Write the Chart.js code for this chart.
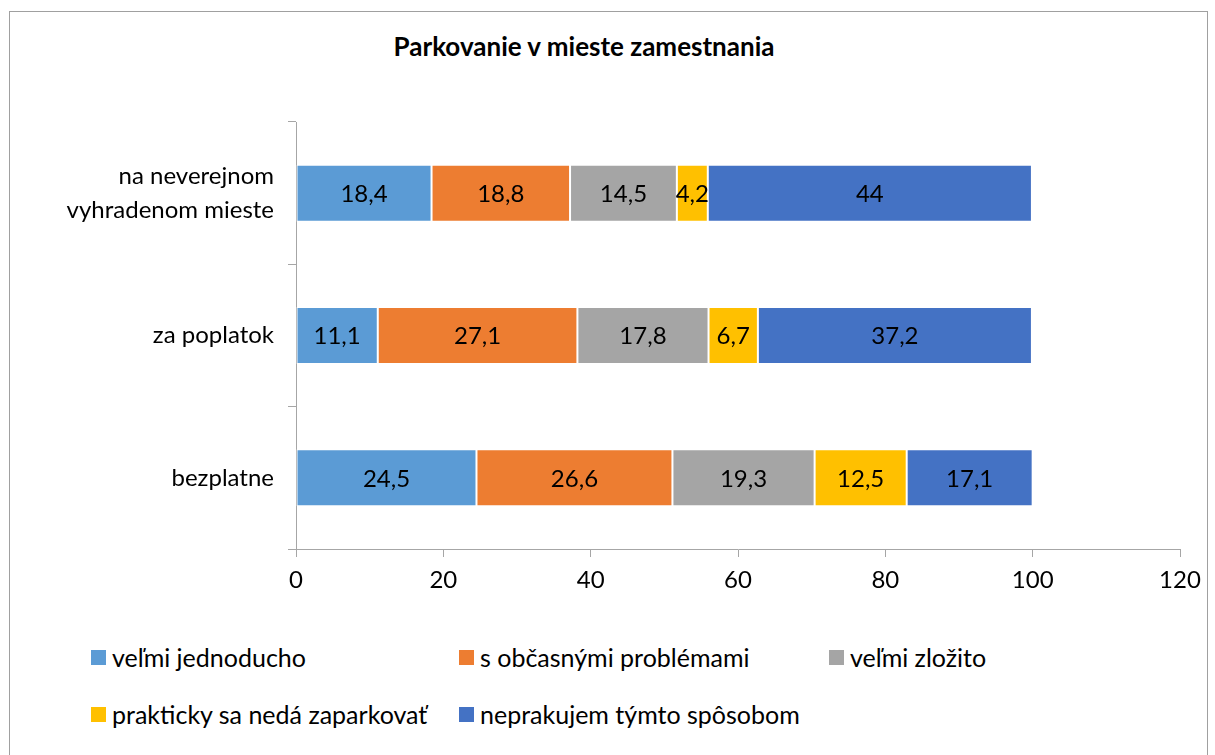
<!DOCTYPE html>
<html>
<head>
<meta charset="utf-8">
<script src="https://cdn.jsdelivr.net/npm/chart.js@4/dist/chart.umd.min.js"></script>
<style>
  html, body { margin: 0; padding: 0; background: #fff; overflow: hidden; }
  body { width: 1215px; height: 755px; position: relative; font-family: Lato, sans-serif; }
  .frame { position: absolute; left: 9px; top: 11px; width: 1197px; height: 800px; border: 1px solid #a0a0a0; }
  .title { position: absolute; left: 334px; width: 500px; top: 30px; text-align: center; font-weight: bold; font-size: 26px; line-height: 32px; color: #000; }
  .canvasContainer { position: absolute; left: 0; top: 0; width: 1215px; height: 620px; }
  .legend { position: absolute; left: 0; top: 0; }
  .legend-item { position: absolute; display: flex; align-items: center; font-size: 25px; line-height: 30px; height: 30px; color: #000; white-space: nowrap; }
  .legend-item span.box { display: inline-block; width: 15px; height: 15px; margin-right: 6px; }
</style>
</head>
<body>
<div class="frame"></div>
<div class="title">Parkovanie v mieste zamestnania</div>
<div class="canvasContainer"><canvas id="chart"></canvas></div>
<div class="legend" id="legend"></div>
<script>
const categories = [['na neverejnom', 'vyhradenom mieste'], 'za poplatok', 'bezplatne'];
const seriesNames = ['veľmi jednoducho', 's občasnými problémami', 'veľmi zložito', 'prakticky sa nedá zaparkovať', 'neprakujem týmto spôsobom'];
const seriesColors = ['#5B9BD5', '#ED7D31', '#A5A5A5', '#FFC000', '#4472C4'];
const velmiJednoducho = [18.4, 11.1, 24.5];
const sObcasnymi = [18.8, 27.1, 26.6];
const velmiZlozito = [14.5, 17.8, 19.3];
const praktickyNie = [4.2, 6.7, 12.5];
const neprakujem = [44, 37.2, 17.1];
const xTicks = [0, 20, 40, 60, 80, 100, 120];

const seriesValues = [velmiJednoducho, sObcasnymi, velmiZlozito, praktickyNie, neprakujem];
const axisColor = '#A6A6A6';
const fontFamily = 'Lato, sans-serif';

// draws the value in the middle of each bar segment
const barLabels = {
  id: 'barLabels',
  afterDatasetsDraw(chart) {
    const { ctx } = chart;
    ctx.save();
    ctx.font = `24px ${fontFamily}`;
    ctx.fillStyle = '#000';
    ctx.textAlign = 'center';
    ctx.textBaseline = 'middle';
    chart.data.datasets.forEach((ds, i) => {
      chart.getDatasetMeta(i).data.forEach((bar, j) => {
        const c = bar.getCenterPoint();
        ctx.fillText(String(ds.data[j]).replace('.', ','), c.x, c.y + 1);
      });
    });
    ctx.restore();
  },
};

const canvas = document.getElementById('chart');
const chart = new Chart(canvas, {
  type: 'bar',
  data: {
    labels: categories,
    datasets: seriesNames.map((name, i) => ({
      label: name,
      data: seriesValues[i],
      backgroundColor: seriesColors[i],
      borderColor: '#ffffff',
      borderWidth: 1,
      borderSkipped: false,
      barPercentage: 0.4,
      categoryPercentage: 1,
    })),
  },
  options: {
    indexAxis: 'y',
    responsive: true,
    maintainAspectRatio: false,
    animation: false,
    layout: { padding: { top: 122, right: 35, bottom: 11, left: 0 } },
    plugins: {
      legend: { display: false },
      title: { display: false },
      tooltip: { enabled: false },
    },
    scales: {
      x: {
        stacked: true,
        min: 0,
        max: 120,
        afterBuildTicks: (scale) => { scale.ticks = xTicks.map((v) => ({ value: v })); },
        afterFit: (scale) => { scale.height = 60; },
        grid: { drawOnChartArea: false, drawTicks: true, tickLength: 8, color: axisColor },
        border: { display: true, color: axisColor },
        ticks: { color: '#000', font: { family: fontFamily, size: 24 }, padding: 9, maxRotation: 0 },
      },
      y: {
        stacked: true,
        afterFit: (scale) => { scale.width = 296; },
        grid: { drawOnChartArea: false, drawTicks: true, tickLength: 8, color: axisColor, offset: true },
        border: { display: true, color: axisColor },
        ticks: { color: '#000', font: { family: fontFamily, size: 24, lineHeight: 1.42 }, padding: 14 },
      },
    },
  },
  plugins: [barLabels],
});

// legend laid out as a grid, like the original
const legendPos = [[91, 657], [459, 657], [829, 657], [91, 714], [459, 714]];
const legend = document.getElementById('legend');
chart.data.datasets.forEach((ds, i) => {
  const item = document.createElement('div');
  item.className = 'legend-item';
  item.style.left = legendPos[i][0] + 'px';
  item.style.top = (legendPos[i][1] - 15) + 'px';
  const box = document.createElement('span');
  box.className = 'box';
  box.style.background = ds.backgroundColor;
  item.append(box, document.createTextNode(ds.label));
  legend.append(item);
});
</script>
</body>
</html>
